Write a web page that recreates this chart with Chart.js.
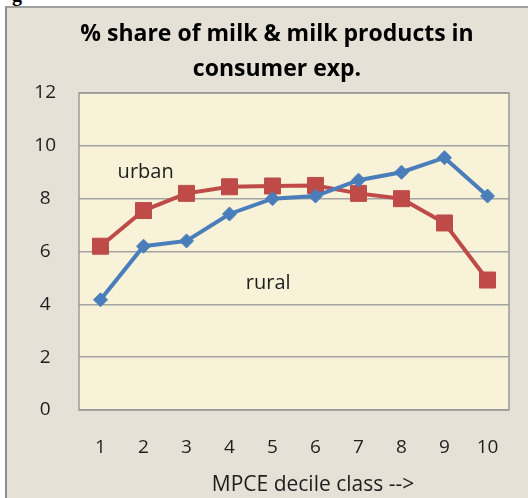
<!DOCTYPE html>
<html>
<head>
<meta charset="utf-8">
<script src="https://cdn.jsdelivr.net/npm/chart.js@4"></script>
<style>
  html, body { margin:0; padding:0; background:#ffffff; width:528px; height:498px; overflow:hidden; }
  #frame { position:absolute; left:5px; top:6px; width:530px; height:500px; background:#e6e1d6; border-left:2px solid #8e8e8e; border-top:2px solid #a0a0a0; }
  #frag { position:absolute; left:12px; top:-17px; font:bold 20px 'Liberation Serif'; color:#000; }
  canvas { position:absolute; left:0; top:0; }
</style>
</head>
<body>
<div id="frame"></div>
<div id="frag">g</div>
<canvas id="c" width="528" height="498"></canvas>
<script>
const categories = ['1','2','3','4','5','6','7','8','9','10'];
const urban = [6.2, 7.55, 8.2, 8.45, 8.48, 8.5, 8.2, 8.0, 7.08, 4.92];
const rural = [4.17, 6.2, 6.4, 7.42, 8.0, 8.1, 8.7, 9.0, 9.55, 8.1];
const yTicks = [0, 2, 4, 6, 8, 10, 12];
const titleLines = ['% share of milk & milk products in', 'consumer exp.'];
const xTitle = 'MPCE decile class -->';
const seriesLabels = [{ text: 'urban', x: 1.05, y: 9.0 }, { text: 'rural', x: 3.9, y: 4.8 }];

const FONT = "'Open Sans'";
const LEFT_PAD = 28;

const decor = {
  id: 'decor',
  beforeDraw(chart) {
    const { ctx, chartArea: a } = chart;
    ctx.save();
    ctx.fillStyle = '#f8f2d8';
    ctx.fillRect(a.left, a.top, a.right - a.left, a.bottom - a.top);
    ctx.restore();
  },
  afterDatasetsDraw(chart) {
    const { ctx, chartArea: a, scales } = chart;
    ctx.save();
    ctx.fillStyle = '#1e1e1e';
    ctx.font = '20px ' + FONT;
    ctx.textAlign = 'center';
    ctx.textBaseline = 'middle';
    seriesLabels.forEach(l => {
      ctx.fillText(l.text, scales.x.getPixelForValue(l.x), scales.y.getPixelForValue(l.y));
    });
    ctx.font = '21px ' + FONT;
    ctx.fillText(xTitle, (a.left + a.right) / 2 + 19, 485);
    // chart title
    ctx.fillStyle = '#000';
    ctx.font = 'bold 23px ' + FONT;
    titleLines.forEach((t, i) => ctx.fillText(t, 277, 34.5 + i * 35));
    ctx.restore();
  },
  afterDraw(chart) {
    const { ctx, chartArea: a } = chart;
    ctx.save();
    ctx.strokeStyle = '#9a9a9a';
    ctx.lineWidth = 1.5;
    ctx.strokeRect(a.left, a.top, a.right - a.left, a.bottom - a.top);
    ctx.restore();
  }
};

new Chart(document.getElementById('c'), {
  type: 'line',
  data: {
    labels: categories,
    datasets: [
      {
        label: 'rural', data: rural,
        borderColor: '#4a7ebb', backgroundColor: '#4a7ebb',
        borderWidth: 4, pointStyle: 'rectRot', pointRadius: 7, pointBorderWidth: 1,
        tension: 0
      },
      {
        label: 'urban', data: urban,
        borderColor: '#be4b48', backgroundColor: '#be4b48',
        borderWidth: 4, pointStyle: 'rect', pointRadius: 11.3, pointBorderWidth: 1,
        tension: 0
      }
    ]
  },
  options: {
    responsive: false,
    animation: false,
    layout: { padding: { left: LEFT_PAD, right: 19, top: 93, bottom: 12 } },
    plugins: {
      legend: { display: false },
      tooltip: { enabled: false },
      title: { display: false }
    },
    scales: {
      x: {
        offset: true,
        grid: { display: false, drawTicks: false },
        border: { display: false },
        ticks: { color: '#1e1e1e', font: { family: FONT, size: 19 }, padding: 26.6, maxRotation: 0 }
      },
      y: {
        min: 0, max: 12,
        afterFit(s) { s.width = 79 - LEFT_PAD; },
        afterBuildTicks(s) { s.ticks = yTicks.map(v => ({ value: v })); },
        grid: { color: '#a3a3a3', lineWidth: 1.5, drawTicks: false },
        border: { display: false },
        ticks: { color: '#1e1e1e', font: { family: FONT, size: 19 }, padding: 23, crossAlign: 'center' }
      }
    }
  },
  plugins: [decor]
});
</script>
</body>
</html>
